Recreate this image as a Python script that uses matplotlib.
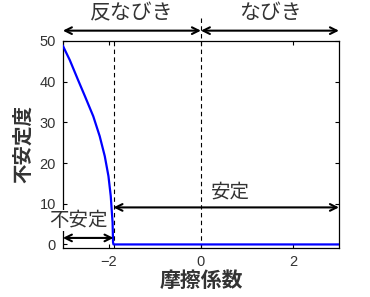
import matplotlib
matplotlib.use("Agg")
import matplotlib.pyplot as plt

plt.rcParams['font.family'] = ['Noto Sans CJK JP', 'DejaVu Sans']

# curve
fric = [-3.0, -2.85, -2.67, -2.52, -2.34, -2.2, -2.09, -2.01, -1.96, -1.93, -1.92, -1.91, -1.9, 3.0]
instab = [48.8, 45.3, 40.4, 36.4, 31.5, 26.6, 21.7, 16.8, 11.9, 7.0, 5.4, 0.5, 0.0, 0.0]

boundary = -1.9
xticks = [-2, 0, 2]
yticks = [0, 10, 20, 30, 40, 50]

fig = plt.figure(figsize=(3.7, 2.97), dpi=100)
ax = fig.add_axes([0.170, 0.166, 0.746, 0.696])

ax.plot(fric, instab, color='#0000ff', linewidth=1.6, zorder=3)
ax.set_xlim(-3, 3)
ax.set_ylim(-0.8, 50)
ax.set_xticks(xticks)
ax.set_yticks(yticks)
ax.set_xticklabels(['\u22122', '0', '2'])
ax.tick_params(direction='in', top=True, right=True, length=3,
               labelsize=10.5, labelcolor='#333333', pad=5)
for lab in ax.get_xticklabels() + ax.get_yticklabels():
    lab.set_family(['Liberation Sans', 'DejaVu Sans'])
for s in ax.spines.values():
    s.set_linewidth(0.9)

ax.set_xlabel('摩擦係数', fontsize=15, fontweight='bold', color='#333333', labelpad=1)
ax.set_ylabel('不安定度', fontsize=14, fontweight='bold', color='#333333', labelpad=5)

# dashed lines
ax.axvline(boundary, color='black', linestyle='--', linewidth=0.8, dashes=(4, 3))
tr = ax.get_xaxis_transform()
ax.plot([0, 0], [0, 1.126], transform=tr, color='black', linestyle='--',
        linewidth=0.8, dashes=(4, 3), clip_on=False)

arrow = dict(arrowstyle='<->', color='black', lw=1.5, shrinkA=0, shrinkB=0,
             mutation_scale=12)

# top arrows
ax.annotate('', xy=(-3, 1.05), xytext=(0, 1.05), xycoords=tr, textcoords=tr,
            arrowprops=arrow, annotation_clip=False)
ax.annotate('', xy=(0, 1.05), xytext=(3, 1.05), xycoords=tr, textcoords=tr,
            arrowprops=arrow, annotation_clip=False)
ax.text(-1.5, 1.135, '反なびき', transform=tr, ha='center', va='center',
        fontsize=15, color='#333333')
ax.text(1.5, 1.135, 'なびき', transform=tr, ha='center', va='center',
        fontsize=15, color='#333333')

# inner arrows
ax.annotate('', xy=(boundary, 9.1), xytext=(3, 9.1), arrowprops=arrow,
            annotation_clip=False)
ax.text(0.65, 12.8, '安定', ha='center', va='center', fontsize=14, color='#333333')
ax.annotate('', xy=(-3, 1.6), xytext=(boundary, 1.6), arrowprops=arrow,
            annotation_clip=False)
ax.text(-2.67, 5.8, '不安定', ha='center', va='center', fontsize=14, color='#333333',
        bbox=dict(facecolor='white', edgecolor='none', pad=0), zorder=5, clip_on=False)

fig.savefig('out.png', dpi=100)
